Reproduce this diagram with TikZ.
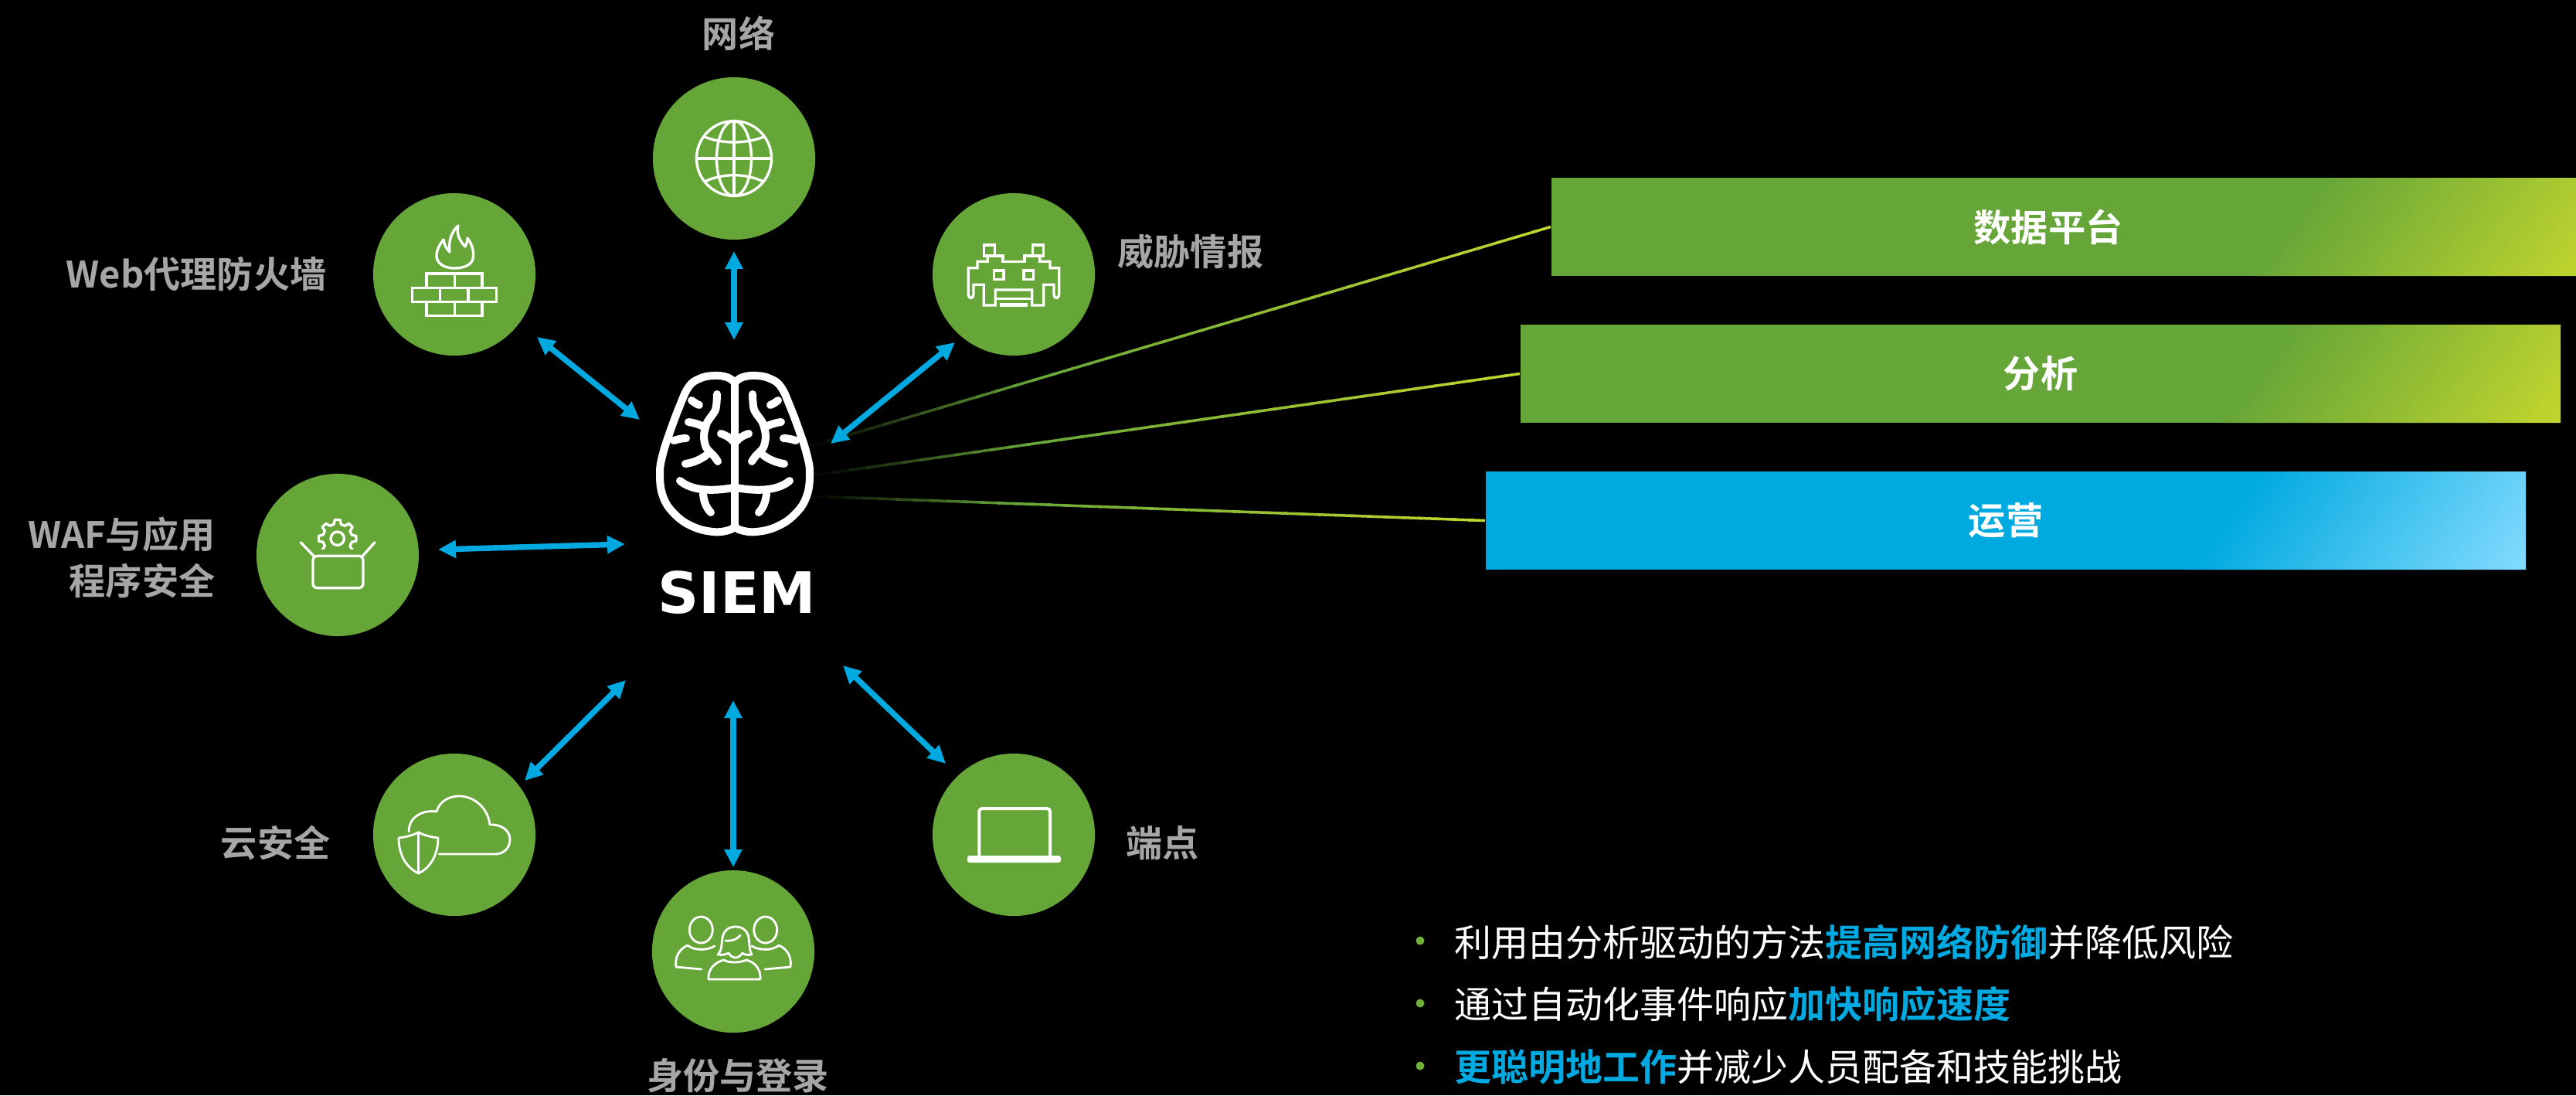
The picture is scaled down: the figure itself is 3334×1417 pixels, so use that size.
\documentclass[tikz,border=0pt]{standalone}
\usepackage{fontspec}
\newfontfamily\cjk{Noto Sans CJK SC}[BoldFont={Noto Sans CJK SC Bold}]
\newfontfamily\siemfont{DejaVu Sans}
\usetikzlibrary{arrows.meta,calc}

\definecolor{hubgreen}{RGB}{102,166,56}
\definecolor{linkblue}{RGB}{0,169,224}
\definecolor{labelgray}{RGB}{166,166,166}
\definecolor{barlime}{RGB}{196,214,46}
\definecolor{barsky}{RGB}{132,219,255}
\definecolor{dotgreen}{RGB}{112,176,58}

\pgfdeclarelayer{back}
\pgfdeclarelayer{barfill}
\pgfsetlayers{back,barfill,main}

\tikzset{
  hub/.style={circle, fill=hubgreen, minimum size=2.1cm, inner sep=0pt},
  icon/.style={draw=white, line width=0.95pt, line join=round, line cap=round},
  thinicon/.style={draw=white, line width=0.8pt, line join=round, line cap=round},
  pixel/.style={draw=white, line width=0.95pt, line join=miter, line cap=butt},
  link/.style={draw=linkblue, fill=linkblue, line width=2.1pt,
    {Triangle[length=0.23cm,width=0.22cm]}-{Triangle[length=0.23cm,width=0.22cm]}},
  tag/.style={text=labelgray, font=\cjk\bfseries\fontsize{13.4pt}{17.07pt}\selectfont, inner sep=0pt},
  barlabel/.style={text=white, font=\cjk\bfseries\fontsize{13.7pt}{16pt}\selectfont,
    inner sep=0pt, minimum height=1.27cm},
  point/.style={text=white, font=\cjk\fontsize{13.65pt}{16pt}\selectfont, anchor=west, inner sep=0pt},
  dot/.style={circle, fill=dotgreen, minimum size=0.11cm, inner sep=0pt},
  brainline/.style={draw=white, line width=2.85pt, line cap=round, line join=round}
}

\newcommand\hl[1]{{\bfseries\color{linkblue}#1}}

% bar with a slanted colour ramp at its right end: left, top, right, bottom, base, end colour
\newcommand\slantbar[6]{%
  \begin{scope}
    \clip (#1,#2) rectangle (#3,#4);
    \fill[#5] (#1,#2) rectangle (#3,#4);
    \foreach \sbI in {0,...,47}{%
      \pgfmathsetmacro\sbA{#3-345+\sbI*(436/48)}%
      \pgfmathsetmacro\sbB{\sbA+436/48+1}%
      \pgfmathsetmacro\sbC{(\sbI+0.5)*(100/48)}%
      \fill[#6!\sbC!#5] (\sbA,#2) -- (\sbB,#2) -- (\sbB-91,#4) -- (\sbA-91,#4) -- cycle;
    }
  \end{scope}}

% thin link that brightens from dark to green to lime
\newcommand\fadeline[2]{%
  \foreach \flI in {0,...,39}{%
    \pgfmathsetmacro\flA{\flI/40}%
    \pgfmathsetmacro\flB{min(1,(\flI+1.3)/40)}%
    \pgfmathsetmacro\flG{min(100,(\flI+0.5)/40*100/0.3)}%
    \pgfmathsetmacro\flY{max(0,((\flI+0.5)/40-0.3)/0.7*100)}%
    \draw[draw={barlime!\flY!hubgreen!\flG!black}, line width=1pt]
      ($(#1)!\flA!(#2)$) -- ($(#1)!\flB!(#2)$);
  }}

\begin{document}
\begin{tikzpicture}[x=0.01cm, y=-0.01cm]
\begin{pgfonlayer}{back}
  \fill[black] (0,0) rectangle (3334,1417);
\end{pgfonlayer}
\useasboundingbox (0,0) rectangle (3334,1417);

% ---------- right-hand bars ----------
\node[barlabel, minimum width=12.86cm] (bdata) at (2651,293.5) {数据平台};
\node[barlabel, minimum width=13.46cm] (bana) at (2641,483.5) {分析};
\node[barlabel, minimum width=13.46cm] (bops) at (2596,673.5) {运营};
\begin{pgfonlayer}{barfill}
  \slantbar{2008}{230}{3354}{357}{hubgreen}{barlime}
  \slantbar{1968}{420}{3314}{547}{hubgreen}{barlime}
  \slantbar{1923}{610}{3269}{737}{linkblue}{barsky}
\end{pgfonlayer}

% ---------- links from the SIEM to the bars ----------
\coordinate (src1) at (1047,578);
\coordinate (src2) at (1053,615);
\coordinate (src3) at (1050,642);
\fadeline{src1}{bdata.west}
\fadeline{src2}{bana.west}
\fadeline{src3}{bops.west}

% ---------- hubs ----------
\node[hub] (net) at (950,205) {};
\node[hub] (intel) at (1312,355) {};
\node[hub] (fw) at (588,355) {};
\node[hub] (waf) at (437,718) {};
\node[hub] (cloud) at (588,1080) {};
\node[hub] (idn) at (949,1231) {};
\node[hub] (endp) at (1312,1080) {};

% ---------- hub captions ----------
\node[tag] (tnet) at (956,43) {网络};
\node[tag, anchor=west] (tintel) at (1446,326) {威胁情报};
\node[tag, anchor=east] (tfw) at (423,354) {Web代理防火墙};
\node[tag, anchor=east, align=right] (twaf) at (279,721) {WAF与应用\\程序安全};
\node[tag, anchor=east] (tcloud) at (428,1091) {云安全};
\node[tag] (tidn) at (955,1392) {身份与登录};
\node[tag, anchor=west] (tendp) at (1457,1091) {端点};

% ---------- SIEM ----------
\node[anchor=base, inner sep=0pt, text=white, font=\siemfont\bfseries\fontsize{21pt}{24pt}\selectfont] (siem) at (954,793) {SIEM};

\begin{scope}[shift={(951,587)}]
  \foreach \side in {1,-1}{
    \begin{scope}[xscale=\side]
      \draw[brainline] plot[smooth, tension=0.7] coordinates {(0,-92) (-10,-99) (-28,-101) (-46,-97) (-60,-86) (-72,-60) (-84,-28) (-93,0) (-97,25) (-93,55) (-78,78) (-55,94) (-28,101) (-8,99) (0,94)};
      \draw[brainline] plot[smooth] coordinates {(-23,-77) (-25,-57) (-36,-40) (-40,-23) (-37,-8) (-27,3) (-22,10)};
      \draw[brainline] (-60,-41) .. controls (-52,-40) and (-44,-37) .. (-38,-34);
      \draw[brainline] (-64,13) .. controls (-55,12) and (-45,8) .. (-37,2);
      \draw[brainline] (-18,-26) .. controls (-12,-24) and (-6,-21) .. (-2,-16);
      \draw[brainline] (-79,-17) .. controls (-73,-19) and (-68,-20) .. (-63,-20);
      \draw[brainline] (-71,35) .. controls (-58,46) and (-35,50) .. (-2,44);
      \draw[brainline] (-41,52) .. controls (-40,62) and (-37,70) .. (-31,76);
      \draw[brainline] (-56,-69) .. controls (-52,-66) and (-49,-64) .. (-46,-63);
    \end{scope}
  }
  \draw[brainline] (0,-92) -- (0,94);
\end{scope}

% ---------- two-way arrows ----------
\coordinate (nA) at (950,325);  \coordinate (nB) at (950,440);
\coordinate (eA) at (1075,574); \coordinate (eB) at (1236,443);
\coordinate (wA) at (695,436);  \coordinate (wB) at (828,543);
\coordinate (fA) at (567,711);  \coordinate (fB) at (809,704);
\coordinate (cA) at (679,1010); \coordinate (cB) at (810,880);
\coordinate (sA) at (949,906);  \coordinate (sB) at (949,1122);
\coordinate (pA) at (1091,861); \coordinate (pB) at (1224,988);
\draw[link] (nA) -- (nB);
\draw[link] (eA) -- (eB);
\draw[link] (wA) -- (wB);
\draw[link] (fA) -- (fB);
\draw[link] (cA) -- (cB);
\draw[link] (sA) -- (sB);
\draw[link] (pA) -- (pB);

% ---------- icons ----------
% globe
\begin{scope}[shift={(net.center)}]
  \draw[icon] (0,0) circle [radius=48.5];
  \draw[icon] (0,0) ellipse [x radius=22.5, y radius=48.5];
  \draw[icon] (0,-48.5) -- (0,48.5);
  \draw[icon] (-48.5,0) -- (48.5,0);
  \draw[icon] (-39.4,-28.3) .. controls (-15,-18.6) and (15,-18.6) .. (39.4,-28.3);
  \draw[icon] (-38.1,30) .. controls (-15,18.9) and (15,18.9) .. (38.1,30);
\end{scope}

% pixel invader
\begin{scope}[shift={(intel.center)}]
  \foreach \side in {1,-1}{
    \begin{scope}[xscale=\side]
      \draw[pixel] (0,-16.7) -- (-14,-16.7) -- (-14,-24) -- (-24.3,-24);
      \draw[pixel] (-38.7,-38) rectangle (-24.3,-24);
      \draw[pixel] (-33.7,-24) -- (-33.7,-16.7) -- (-47,-16.7) -- (-47,-8.3) -- (-58.7,-8.3) -- (-58.7,26)
        .. controls (-58.7,32) and (-52,32) .. (-52,26) -- (-52,13.3) -- (-38.7,13.3) -- (-38.7,40)
        -- (-23.7,40) -- (-23.7,20) -- (0,20);
      \draw[pixel] (-23.7,31.7) -- (0,31.7);
      \draw[pixel] (-25.3,-5) rectangle (-13,6.7);
      \draw[pixel, line width=1.2pt] (-17.7,39.5) -- (0,39.5);
    \end{scope}
  }
\end{scope}

% firewall
\begin{scope}[shift={(fw.center)}]
  \draw[icon] (0,-8) .. controls (-14,-8) and (-24,-15) .. (-23,-26)
    .. controls (-22,-34) and (-18,-40) .. (-14,-45)
    .. controls (-13,-38) and (-10,-33) .. (-6,-29)
    .. controls (-8,-44) and (-3,-56) .. (5,-63)
    .. controls (2,-52) and (8,-42) .. (14,-36)
    .. controls (16,-40) and (17,-43) .. (17,-47)
    .. controls (23,-39) and (26,-30) .. (24,-20)
    .. controls (22,-12) and (12,-8) .. (0,-8) -- cycle;
  \draw[pixel] (-36,-1) rectangle (36,17.5);
  \draw[pixel] (0.5,-1) -- (0.5,17.5);
  \draw[pixel] (-54.5,17.5) rectangle (54.3,35.5);
  \draw[pixel] (-18.5,17.5) -- (-18.5,35.5);
  \draw[pixel] (18,17.5) -- (18,35.5);
  \draw[pixel] (-36,35.5) rectangle (36,53.3);
  \draw[pixel] (0.5,35.5) -- (0.5,53.3);
\end{scope}

% open box with gear
\begin{scope}[shift={(waf.center)}]
  \draw[icon, rounded corners=0.05cm] (-32,1.3) rectangle (33,42.7);
  \draw[icon] (-31,1.3) -- (-47.7,-16.3);
  \draw[icon] (32.3,1.3) -- (48,-16.3);
  \begin{scope}[shift={(-0.3,-21.3)}]
    \clip (-32,-32) rectangle (32,13.5);
    \draw[icon] (76:19) \foreach \a in {90,135,...,405}{ -- ({\a-14}:19) -- ({\a-8}:24.5) -- ({\a+8}:24.5) -- ({\a+14}:19) } -- cycle;
    \draw[icon] (0,0) circle [radius=8.7];
  \end{scope}
\end{scope}

% cloud with shield
\begin{scope}[shift={(cloud.center)}]
  \draw[thinicon] (-19.7,25) -- (53,25) .. controls (64,25) and (72,17) .. (72,6)
    .. controls (72,-6) and (60,-14) .. (46,-13)
    .. controls (43,-38) and (22,-51) .. (4,-50)
    .. controls (-10,-49) and (-20,-41) .. (-23,-30)
    .. controls (-44,-33) and (-60,-20) .. (-58.7,-4);
  \draw[thinicon] (-46.3,-3.3) .. controls (-52,0) and (-62,3) .. (-72,4)
    .. controls (-72,25) and (-63,42) .. (-46.3,50)
    .. controls (-30,42) and (-21,25) .. (-21,4)
    .. controls (-31,3) and (-41,0) .. (-46.3,-3.3) -- cycle;
  \draw[thinicon] (-46.3,-3.3) -- (-46.3,50);
\end{scope}

% group of people
\begin{scope}[shift={(idn.center)}]
  \foreach \side in {1,-1}{
    \begin{scope}[xscale=\side]
      \draw[thinicon] (-41.7,-28) ellipse [x radius=15, y radius=17];
      \draw[thinicon] (-41,23) -- (-74,20) .. controls (-76,7) and (-70,-3) .. (-59,-8)
        .. controls (-51,-1) and (-34,-1) .. (-24,-7);
    \end{scope}
  }
  \draw[thinicon] (-20,4) .. controls (-15,0) and (-15,-10) .. (-14,-18)
    .. controls (-12,-28) and (-5,-32) .. (3,-32)
    .. controls (11,-32) and (18,-28) .. (20,-18)
    .. controls (21,-10) and (21,0) .. (24,4)
    .. controls (18,5) and (14,4) .. (12,2)
    .. controls (9,6) and (6,8) .. (3,8)
    .. controls (0,8) and (-4,6) .. (-6,2)
    .. controls (-10,4) and (-15,5) .. (-20,4) -- cycle;
  \draw[thinicon] (-10,-14) .. controls (-3,-13) and (6,-16) .. (9,-21);
  \draw[thinicon] (-32,36) -- (35,36) .. controls (36,24) and (29,14) .. (17,11)
    .. controls (8,15) and (-6,15) .. (-12,11)
    .. controls (-25,14) and (-33,24) .. (-32,36) -- cycle;
\end{scope}

% laptop
\begin{scope}[shift={(endp.center)}]
  \draw[white, line width=1.15pt, rounded corners=0.04cm] (-44.7,28) -- (-44.7,-34) -- (47,-34) -- (47,28);
  \fill[white, rounded corners=0.03cm] (-60,27) rectangle (61,36);
\end{scope}

% ---------- key points ----------
\node[dot] (d1) at (1838,1217) {};
\node[dot] (d2) at (1838,1298) {};
\node[dot] (d3) at (1838,1379) {};
\node[point] (p1) at (1882,1219) {利用由分析驱动的方法\hl{提高网络防御}并降低风险};
\node[point] (p2) at (1882,1299) {通过自动化事件响应\hl{加快响应速度}};
\node[point] (p3) at (1882,1380) {\hl{更聪明地工作}并减少人员配备和技能挑战};
\end{tikzpicture}
\end{document}
